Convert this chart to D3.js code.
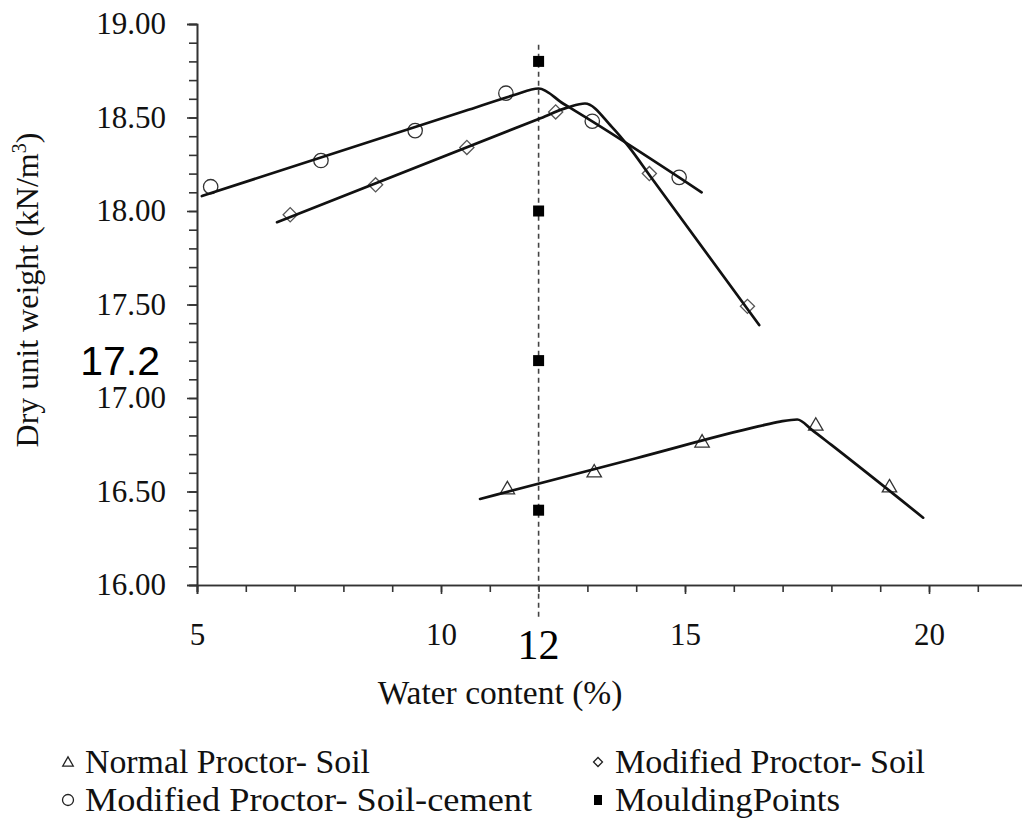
<!DOCTYPE html>
<html>
<head>
<meta charset="utf-8">
<script src="https://cdn.jsdelivr.net/npm/d3@7"></script>
<style>
  body { margin: 0; background: #fff; }
  svg { display: block; font-family: "Liberation Serif", "Times New Roman", serif; }
</style>
</head>
<body>
<svg id="chart" width="1022" height="821"></svg>
<script>
// measured points (water content %, dry unit weight kN/m3)
var normalW = [11.36, 13.14, 15.35, 17.68, 19.19];
var normalGd = [16.51, 16.60, 16.76, 16.85, 16.52];
var modSoilW = [6.91, 8.66, 10.53, 12.35, 14.27, 16.28];
var modSoilGd = [17.98, 18.14, 18.34, 18.53, 18.20, 17.49];
var cementW = [5.28, 7.54, 9.47, 11.33, 13.10, 14.88];
var cementGd = [18.13, 18.27, 18.43, 18.63, 18.48, 18.18];
var mouldW = [12, 12, 12, 12];
var mouldGd = [18.80, 18.00, 17.20, 16.40];

// fitted compaction curves (straight branches with a rounded peak)
var normalFitW = [10.8, 14.0, 16.5, 16.95, 17.3, 17.6, 18.0, 19.88];
var normalFitGd = [16.46, 16.678, 16.848, 16.874, 16.885, 16.83, 16.749, 16.36];
var modSoilFitW = [6.64, 12.0, 12.6, 12.95, 13.5, 13.85, 14.3, 16.52];
var modSoilFitGd = [17.94, 18.492, 18.554, 18.575, 18.45, 18.343, 18.182, 17.39];
var cementFitW = [5.1, 10.5, 11.5, 12.0, 12.5, 13.0, 15.34];
var cementFitGd = [18.08, 18.536, 18.62, 18.655, 18.575, 18.495, 18.10];

// moulding water content guide line and the marked values
var guideGd = [15.83, 18.9];
var markW = 12;
var markGd = 17.2;

// axis ticks
var xMajor = [5, 10, 15, 20];
var xMinor = d3.range(5, 23, 1);
var yMajor = [16, 16.5, 17, 17.5, 18, 18.5, 19];
var yMinor = d3.range(160, 191, 1).map(function(v) { return v / 10; });

var legendLabels = ['Normal Proctor- Soil', 'Modified Proctor- Soil',
  'Modified Proctor- Soil-cement', 'MouldingPoints'];

var svg = d3.select('#chart');

var x = d3.scaleLinear().domain([5, 22]).range([197, 1026.6]);
var y = d3.scaleLinear().domain([16, 19]).range([585, 24]);

function pairs(xs, ys) {
  return xs.map(function(v, i) { return [v, ys[i]]; });
}

// axes
var yMinorAxis = d3.axisLeft(y).tickValues(yMinor).tickSize(8).tickFormat('');
var yAxis = d3.axisLeft(y).tickValues(yMajor).tickSize(10).tickPadding(21)
  .tickFormat(d3.format('.2f'));
var xMinorAxis = d3.axisBottom(x).tickValues(xMinor).tickSize(7).tickFormat('');
var xAxis = d3.axisBottom(x).tickValues(xMajor).tickSize(9).tickPadding(29)
  .tickFormat(d3.format('d'));

function styleAxis(g) {
  g.attr('font-family', null);
  g.selectAll('path, line').attr('stroke', '#333').attr('stroke-width', 1.6);
  g.selectAll('text').attr('fill', '#111')
    .style('font-family', '"Liberation Serif", "Times New Roman", serif')
    .attr('font-size', 31);
}

svg.append('g').attr('transform', 'translate(197,0)').call(yMinorAxis).call(styleAxis);
svg.append('g').attr('transform', 'translate(197,0)').call(yAxis).call(styleAxis);
svg.append('g').attr('transform', 'translate(0,585)').call(xMinorAxis).call(styleAxis);
svg.append('g').attr('transform', 'translate(0,585)').call(xAxis).call(styleAxis);

// axis titles
svg.append('text')
  .attr('x', 500).attr('y', 704)
  .attr('text-anchor', 'middle')
  .attr('font-size', 33.5).attr('fill', '#111')
  .text('Water content (%)');

var yTitle = svg.append('text')
  .attr('transform', 'translate(38,290) rotate(-90)')
  .attr('text-anchor', 'middle')
  .attr('font-size', 32).attr('fill', '#111');
yTitle.append('tspan').text('Dry unit weight (kN/m');
yTitle.append('tspan').attr('font-size', 20).attr('dy', -12).text('3');
yTitle.append('tspan').attr('dy', 12).text(')');

// dashed guide at the moulding water content
svg.append('line')
  .attr('x1', x(markW)).attr('x2', x(markW))
  .attr('y1', y(guideGd[0])).attr('y2', y(guideGd[1]))
  .attr('stroke', '#444').attr('stroke-width', 1.6)
  .attr('stroke-dasharray', '5,4');

// marked values
svg.append('text')
  .attr('x', x(markW)).attr('y', 659)
  .attr('text-anchor', 'middle')
  .attr('font-size', 42).attr('fill', '#000')
  .text(markW);

svg.append('text')
  .attr('x', 160).attr('y', y(markGd) + 14.5)
  .attr('text-anchor', 'end')
  .attr('font-family', '"Liberation Sans", Arial, sans-serif')
  .attr('font-size', 41).attr('fill', '#000')
  .text(markGd);

// marker symbols
var triangle = d3.symbol().type(d3.symbolTriangle).size(90);
var diamond = d3.symbol().type(d3.symbolSquare).size(100);
var legendTriangle = d3.symbol().type(d3.symbolTriangle).size(48);
var legendDiamond = d3.symbol().type(d3.symbolSquare).size(40);

function drawPoints(data, kind) {
  var g = svg.append('g');
  var sel = g.selectAll('.pt').data(data).enter();
  if (kind === 'circle') {
    sel.append('circle')
      .attr('cx', function(d) { return x(d[0]); })
      .attr('cy', function(d) { return y(d[1]); })
      .attr('r', 7.2)
      .attr('fill', 'none').attr('stroke', '#333').attr('stroke-width', 1.3);
  } else if (kind === 'triangle') {
    sel.append('path')
      .attr('d', triangle)
      .attr('transform', function(d) { return 'translate(' + x(d[0]) + ',' + y(d[1]) + ')'; })
      .attr('fill', 'none').attr('stroke', '#333').attr('stroke-width', 1.3);
  } else if (kind === 'diamond') {
    sel.append('path')
      .attr('d', diamond)
      .attr('transform', function(d) { return 'translate(' + x(d[0]) + ',' + y(d[1]) + ') rotate(45)'; })
      .attr('fill', 'none').attr('stroke', '#555').attr('stroke-width', 1.3);
  } else {
    sel.append('rect')
      .attr('x', function(d) { return x(d[0]) - 5.5; })
      .attr('y', function(d) { return y(d[1]) - 5.5; })
      .attr('width', 11).attr('height', 11)
      .attr('fill', '#000');
  }
}

drawPoints(pairs(normalW, normalGd), 'triangle');
drawPoints(pairs(modSoilW, modSoilGd), 'diamond');
drawPoints(pairs(cementW, cementGd), 'circle');

// fitted curves drawn over the hollow markers
var curve = d3.line()
  .x(function(d) { return x(d[0]); })
  .y(function(d) { return y(d[1]); })
  .curve(d3.curveMonotoneX);

[pairs(normalFitW, normalFitGd), pairs(modSoilFitW, modSoilFitGd), pairs(cementFitW, cementFitGd)]
  .forEach(function(fit) {
    svg.append('path')
      .attr('d', curve(fit))
      .attr('fill', 'none')
      .attr('stroke', '#111')
      .attr('stroke-width', 2.7)
      .attr('stroke-linecap', 'round');
  });

drawPoints(pairs(mouldW, mouldGd), 'square');

// legend
var legendPos = [[68, 762], [598, 762], [68, 800], [598, 800]];
var legendWidth = [285, 310, 447, 225];
var legend = svg.append('g').attr('class', 'legend');

legendLabels.forEach(function(label, i) {
  var p = legendPos[i];
  var mark;
  if (i === 0) {
    mark = legend.append('path').attr('d', legendTriangle)
      .attr('transform', 'translate(' + p[0] + ',' + (p[1] + 1) + ')');
  } else if (i === 1) {
    mark = legend.append('path').attr('d', legendDiamond)
      .attr('transform', 'translate(' + p[0] + ',' + p[1] + ') rotate(45)');
  } else if (i === 2) {
    mark = legend.append('circle').attr('cx', p[0]).attr('cy', p[1]).attr('r', 5.5);
  } else {
    mark = legend.append('rect').attr('x', p[0] - 4).attr('y', p[1] - 5)
      .attr('width', 8).attr('height', 10).attr('fill', '#000');
  }
  if (i < 3) {
    mark.attr('fill', 'none').attr('stroke', '#222').attr('stroke-width', 1.3);
  }
  legend.append('text')
    .attr('x', p[0] + 17).attr('y', p[1] + 11)
    .attr('font-size', 34).attr('fill', '#111')
    .attr('textLength', legendWidth[i])
    .attr('lengthAdjust', 'spacingAndGlyphs')
    .text(label);
});
</script>
</body>
</html>
